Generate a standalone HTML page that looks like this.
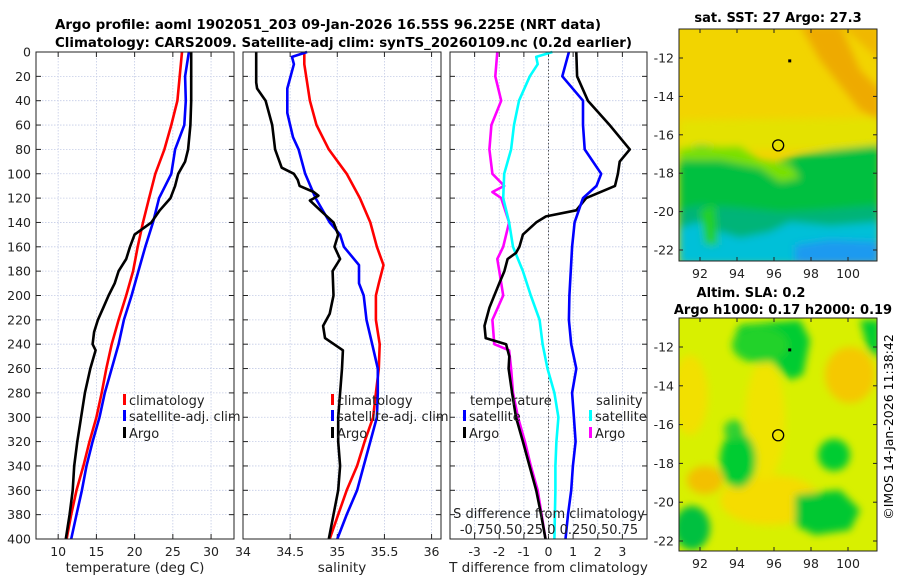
<!DOCTYPE html>
<html><head><meta charset="utf-8">
<style>
html,body{margin:0;padding:0;background:#fff;}
svg{display:block;font-family:"DejaVu Sans","Liberation Sans",sans-serif;}
</style></head>
<body>
<svg id="fig" width="900" height="580" viewBox="0 0 900 580" xmlns="http://www.w3.org/2000/svg">
<defs>
<filter id="blur4" x="-20%" y="-20%" width="140%" height="140%"><feGaussianBlur stdDeviation="4"/></filter>
<filter id="blur2" x="-20%" y="-20%" width="140%" height="140%"><feGaussianBlur stdDeviation="2"/></filter>
<clipPath id="clipMap1"><rect x="679" y="29" width="198" height="232"/></clipPath>
<clipPath id="clipMap2"><rect x="679" y="318" width="198" height="233"/></clipPath>
</defs>
<text x="55" y="29" font-size="13.5" font-weight="bold" textLength="546" lengthAdjust="spacingAndGlyphs">Argo profile: aoml 1902051_203 09-Jan-2026 16.55S 96.225E (NRT data)</text>
<text x="55" y="47" font-size="13.5" font-weight="bold" textLength="577" lengthAdjust="spacingAndGlyphs">Climatology: CARS2009. Satellite-adj clim: synTS_20260109.nc (0.2d earlier)</text>
<g id="panels"></g>
<g id="maps">
  <g clip-path="url(#clipMap1)">
    <rect x="679" y="29" width="198" height="232" fill="#f2d400"/>
    <g filter="url(#blur4)">
      <path d="M800,25 L840,25 L860,70 L880,90 L880,120 L860,110 L840,85 L820,60 Z" fill="#eeaa00"/>
      <path d="M840,25 L880,25 L880,60 Z" fill="#f0b800"/>
      <path d="M679,120 L880,118 L880,150 L679,150 Z" fill="#e4e200"/>
      <path d="M679,150 L700,145 L730,148 L750,155 L770,165 L800,155 L830,150 L880,145 L880,265 L679,265 Z" fill="#00c040"/>
      <path d="M679,148 L740,146 L760,160 L790,165 L800,178 L780,182 L760,168 L720,160 L679,160 Z" fill="#7ae000"/>
      <path d="M679,210 L700,205 L740,208 L780,212 L820,210 L880,205 L880,265 L679,265 Z" fill="#00b478"/>
      <path d="M679,228 L700,222 L720,232 L740,238 L770,232 L790,222 L830,226 L880,222 L880,265 L679,265 Z" fill="#00c0d8"/>
      <path d="M795,245 L830,240 L880,242 L880,265 L795,265 Z" fill="#1a9af0"/>
      <path d="M700,210 L715,205 L718,245 L705,245 Z" fill="#20d020"/>
    </g>
  </g>
  <rect x="679" y="29" width="198" height="232" fill="none" stroke="#222" stroke-width="1"/>
  <g clip-path="url(#clipMap2)">
    <rect x="679" y="318" width="198" height="233" fill="#d8f000"/>
    <g filter="url(#blur4)">
      <ellipse cx="850" cy="375" rx="25" ry="28" fill="#f5c800"/>
      <ellipse cx="705" cy="480" rx="18" ry="14" fill="#f3c000"/>
      <ellipse cx="770" cy="500" rx="50" ry="25" fill="#f5dc00"/>
      <ellipse cx="765" cy="420" rx="20" ry="60" fill="#f0e400"/>
      <ellipse cx="690" cy="395" rx="18" ry="40" fill="#f2e000"/>
      <path d="M740,325 L800,320 L810,340 L803,375 L790,380 L770,360 L750,350 L735,335 Z" fill="#00cc33"/>
      <ellipse cx="760" cy="345" rx="28" ry="18" fill="#22d22a"/>
      <path d="M860,320 L880,320 L880,360 L868,350 Z" fill="#00cc33"/>
      <ellipse cx="738" cy="460" rx="18" ry="28" fill="#00cc33"/>
      <ellipse cx="734" cy="430" rx="10" ry="10" fill="#33d030"/>
      <ellipse cx="834" cy="455" rx="16" ry="16" fill="#00cc33"/>
      <path d="M795,495 L840,490 L860,510 L850,530 L815,535 L795,525 Z" fill="#00c830"/>
      <ellipse cx="692" cy="528" rx="18" ry="22" fill="#00c040"/>
    </g>
  </g>
  <rect x="679" y="318" width="198" height="233" fill="none" stroke="#222" stroke-width="1"/>
  <text x="778" y="22" font-size="13" font-weight="bold" text-anchor="middle">sat. SST: 27 Argo: 27.3</text>
  <text x="751" y="297" font-size="13" font-weight="bold" text-anchor="middle">Altim. SLA: 0.2</text>
  <text x="783" y="314" font-size="13" font-weight="bold" text-anchor="middle">Argo h1000: 0.17 h2000: 0.19</text>
  <text transform="translate(893,427) rotate(-90)" font-size="12.5" text-anchor="middle">©IMOS 14-Jan-2026 11:38:42</text>
</g>
</svg>
<script>
// ---- data ----
const depths = [0,20,40,60,80,100,120,140,160,180,200,220,240,260,280,300,320,340,360,380,400];
const tempClim = [26.2,25.9,25.6,24.8,23.9,22.7,21.9,21.1,20.4,19.8,18.9,17.9,17.0,16.3,15.7,15.0,14.1,13.3,12.4,11.7,11.1];
const tempSat = [27.1,26.6,26.7,26.5,25.3,24.8,23.2,22.4,21.4,20.5,19.6,18.6,17.9,17.0,16.1,15.4,14.5,13.7,13.1,12.4,11.7];
const argoTempDepths = [0,20,40,60,80,90,100,110,120,130,140,150,160,170,180,190,200,210,220,230,240,245,260,280,300,320,340,360,380,400];
const tempArgo = [27.4,27.4,27.4,27.3,27.0,26.6,25.7,25.3,24.7,23.3,22.2,20.0,19.4,18.9,17.9,17.4,16.6,15.9,15.2,14.7,14.5,14.9,14.2,13.5,13.0,12.5,12.1,11.9,11.5,11.0];

const salClimDepths = [0,10,40,60,80,100,120,140,160,175,190,200,220,240,260,280,300,320,340,360,380,400];
const salClim = [34.65,34.65,34.71,34.78,34.91,35.10,35.24,35.35,35.42,35.49,35.44,35.41,35.41,35.45,35.44,35.41,35.38,35.29,35.21,35.10,35.01,34.92];
const salSatDepths = [0,4,10,30,50,70,80,100,120,140,150,160,175,190,200,220,240,260,280,300,320,340,360,380,400];
const salSat = [34.68,34.52,34.54,34.47,34.47,34.53,34.59,34.66,34.77,34.92,35.03,35.07,35.23,35.23,35.28,35.31,35.37,35.43,35.43,35.42,35.35,35.28,35.21,35.10,35.00];
const salArgoDepths = [0,25,30,40,60,80,95,100,105,110,115,118,122,130,140,150,160,170,180,200,215,225,235,245,260,280,300,320,340,360,380,400];
const salArgo = [34.14,34.14,34.15,34.24,34.31,34.34,34.41,34.54,34.58,34.60,34.75,34.80,34.71,34.82,34.96,35.01,34.97,35.03,34.95,34.96,34.92,34.85,34.87,35.06,35.05,35.03,35.01,35.01,35.03,35.01,34.96,34.91];

const dTSatDepths = [0,20,40,60,80,100,110,120,140,160,200,220,240,260,280,300,320,340,360,380,400];
const dTSat = [0.83,0.56,1.40,1.40,1.47,2.14,1.95,1.40,1.06,0.96,0.85,0.83,0.92,1.13,0.96,1.03,1.10,0.99,0.92,0.79,0.69];
const dTArgoDepths = [0,20,40,60,80,90,100,110,120,130,135,140,150,160,165,170,180,190,200,210,225,235,240,250,260,280,300,320,340,360,380,400];
const dTArgo = [1.13,1.16,1.60,2.48,3.30,2.89,2.82,2.70,1.53,1.13,-0.10,-0.50,-1.04,-1.18,-1.32,-1.66,-1.79,-2.0,-2.2,-2.4,-2.6,-2.55,-1.72,-1.59,-1.62,-1.48,-1.32,-1.04,-0.77,-0.50,-0.30,-0.12];
const dSSatDepths = [0,4,10,20,40,60,80,100,120,140,160,180,200,220,240,260,280,300,320,340,360,380,400];
const dSSat = [0.04,-0.125,-0.11,-0.19,-0.30,-0.35,-0.38,-0.45,-0.46,-0.40,-0.36,-0.26,-0.18,-0.09,-0.06,-0.01,0.06,0.10,0.08,0.07,0.07,0.065,0.06];
const dSArgoDepths = [0,20,40,60,80,100,110,115,120,140,160,170,180,200,220,240,245,260,280,300,320,340,360,380,400];
const dSArgo = [-0.52,-0.54,-0.48,-0.58,-0.60,-0.57,-0.45,-0.57,-0.48,-0.40,-0.46,-0.52,-0.50,-0.46,-0.57,-0.55,-0.40,-0.38,-0.36,-0.31,-0.24,-0.18,-0.11,-0.07,-0.03];

const depthTicks = [0,20,40,60,80,100,120,140,160,180,200,220,240,260,280,300,320,340,360,380,400];
const tempTicks = [10,15,20,25,30];
const salTicks = [34,34.5,35,35.5,36];
const salTickLabels = ["34","34.5","35","35.5","36"];
const diffTicks = [-3,-2,-1,0,1,2,3];
const lonTicks = [92,94,96,98,100];
const latTicks = [-12,-14,-16,-18,-20,-22];
const argoPos = [96.225,-16.55];
const otherPos = [96.85,-12.15];

// ---- drawing ----
const NS = "http://www.w3.org/2000/svg";
const root = document.getElementById('panels');
function mk(tag, attrs, parent){
  const e = document.createElementNS(NS, tag);
  for (const k in attrs) e.setAttribute(k, attrs[k]);
  (parent||root).appendChild(e);
  return e;
}
const Y0 = 52, Y1 = 539;
function yD(d){ return Y0 + (d/400)*(Y1-Y0); }
function makeX(x0,x1,v0,v1){ return v => x0 + (v-v0)/(v1-v0)*(x1-x0); }

const panels = [
  {name:'temperature-panel', x0:36, x1:234, v0:7.1, v1:33.0, ticks:tempTicks, labels:tempTicks.map(String), xlabel:'temperature (deg C)', leftLabels:true},
  {name:'salinity-panel', x0:243, x1:441, v0:34.0, v1:36.1, ticks:salTicks, labels:salTickLabels, xlabel:'salinity'},
  {name:'difference-panel', x0:450, x1:647, v0:-4, v1:4, ticks:diffTicks, labels:diffTicks.map(String), xlabel:'T difference from climatology'}
];
const scales = {};
panels.forEach(p => {
  const g = mk('g', {});
  
  
  const sx = makeX(p.x0,p.x1,p.v0,p.v1);
  scales[p.name] = sx;
  p.g = g;
  depthTicks.forEach(d => {
    const l = mk('line', {x1:p.x0, x2:p.x1, y1:yD(d), y2:yD(d), stroke:'#c4cce6', 'stroke-width':0.8, 'stroke-dasharray':'1.5,1.5'}, g);
    
    
    mk('line', {x1:p.x0, x2:p.x0+5, y1:yD(d), y2:yD(d), stroke:'#222'}, g);
    mk('line', {x1:p.x1-5, x2:p.x1, y1:yD(d), y2:yD(d), stroke:'#222'}, g);
  });
  p.ticks.forEach((t,i) => {
    const x = sx(t);
    const l = mk('line', {x1:x, x2:x, y1:Y0, y2:Y1, stroke:'#c4cce6', 'stroke-width':0.8, 'stroke-dasharray':'1.5,1.5'}, g);
    
    
    mk('line', {x1:x, x2:x, y1:Y1-5, y2:Y1, stroke:'#222'}, g);
    mk('line', {x1:x, x2:x, y1:Y0, y2:Y0+5, stroke:'#222'}, g);
    const tx = mk('text', {x:x, y:Y1+17, 'font-size':12.5, 'text-anchor':'middle', fill:'#222'}, g);
    
    
    tx.textContent = p.labels[i];
  });
  const xl = mk('text', {x:(p.x0+p.x1)/2, y:572, 'font-size':13.5, 'text-anchor':'middle', fill:'#222'}, g);
  
  
  xl.textContent = p.xlabel;
  if (p.leftLabels) {
    depthTicks.forEach(d => {
      const tx = mk('text', {x:31, y:yD(d)+4.5, 'font-size':12.5, 'text-anchor':'end', fill:'#222'}, g);
      
      
      tx.textContent = String(d);
    });
  }
});
(function(){
  const sx = scales['difference-panel'];
  const l = mk('line', {x1:sx(0), x2:sx(0), y1:Y0, y2:Y1, stroke:'#555', 'stroke-width':1, 'stroke-dasharray':'1.5,2'}, panels[2].g);
  
  
})();

function series(panel, ds, vs, color, name, k){
  const sx = scales[panel];
  const pts = ds.map((d,i) => sx(vs[i]*(k||1)).toFixed(1)+','+yD(d).toFixed(1)).join(' ');
  const pl = mk('polyline', {points:pts, fill:'none', stroke:color, 'stroke-width':2.6, 'stroke-linejoin':'round'}, panels.find(p=>p.name===panel).g);
  
  
}
series('temperature-panel', depths, tempClim, '#ff0000', 'temperature-climatology-line');
series('temperature-panel', depths, tempSat, '#0000ff', 'temperature-satellite-line');
series('temperature-panel', argoTempDepths, tempArgo, '#000000', 'temperature-argo-line');
series('salinity-panel', salClimDepths, salClim, '#ff0000', 'salinity-climatology-line');
series('salinity-panel', salSatDepths, salSat, '#0000ff', 'salinity-satellite-line');
series('salinity-panel', salArgoDepths, salArgo, '#000000', 'salinity-argo-line');
series('difference-panel', dSArgoDepths, dSArgo, '#ff00ff', 'salinity-diff-argo-line', 4);
series('difference-panel', dSSatDepths, dSSat, '#00ffff', 'salinity-diff-satellite-line', 4);
series('difference-panel', dTArgoDepths, dTArgo, '#000000', 'temperature-diff-argo-line');
series('difference-panel', dTSatDepths, dTSat, '#0000ff', 'temperature-diff-satellite-line');

panels.forEach(p => {
  const r = mk('rect', {x:p.x0, y:Y0, width:p.x1-p.x0, height:Y1-Y0, fill:'none', stroke:'#222', 'stroke-width':1}, p.g);
  
  
});

function legendEntry(g, x, y, color, label){
  const m = mk('rect', {x:x, y:y-7, width:3, height:11, fill:color}, g);
  
  
  const t = mk('text', {x:x+6, y:y+4, 'font-size':13, fill:'#222'}, g);
  
  
  t.textContent = label;
}
[[123,'temperature-panel'],[331,'salinity-panel']].forEach(([x,pn]) => {
  const g = mk('g', {}, panels.find(p=>p.name===pn).g);
  
  
  legendEntry(g, x, 401, '#ff0000', 'climatology');
  legendEntry(g, x, 417, '#0000ff', 'satellite-adj. clim');
  legendEntry(g, x, 434, '#000000', 'Argo');
});
(function(){
  const g = mk('g', {}, panels[2].g);
  
  
  const t1 = mk('text', {x:470, y:405, 'font-size':13, fill:'#222'}, g);
  
  
  t1.textContent = 'temperature';
  const t2 = mk('text', {x:596, y:405, 'font-size':13, fill:'#222'}, g);
  
  
  t2.textContent = 'salinity';
  legendEntry(g, 463, 417, '#0000ff', 'satellite');
  legendEntry(g, 463, 434, '#000000', 'Argo');
  legendEntry(g, 589, 417, '#00ffff', 'satellite');
  legendEntry(g, 589, 434, '#ff00ff', 'Argo');
  const s1 = mk('text', {x:549, y:518, 'font-size':13, 'text-anchor':'middle', fill:'#222'}, g);
  
  
  s1.textContent = 'S difference from climatology';
  const s2 = mk('text', {x:549, y:534, 'font-size':13, 'text-anchor':'middle', fill:'#222'}, g);
  
  
  s2.textContent = '-0.750.50.25 0 0.250.50.75';
})();

const mapsG = document.getElementById('maps');
const maps = [
  {name:'sst-map', x0:679, x1:877, y0:29, y1:261, lonA:92, xA:700, lonB:100, xB:848, latA:-12, yA:58, latB:-22, yB:250},
  {name:'sla-map', x0:679, x1:877, y0:318, y1:551, lonA:92, xA:700, lonB:100, xB:848, latA:-12, yA:347, latB:-22, yB:541}
];
maps.forEach(m => {
  const g = mk('g', {}, mapsG);
  
  
  const lx = v => m.xA + (v-m.lonA)/(m.lonB-m.lonA)*(m.xB-m.xA);
  const ly = v => m.yA + (v-m.latA)/(m.latB-m.latA)*(m.yB-m.yA);
  lonTicks.forEach(v => {
    mk('line', {x1:lx(v), x2:lx(v), y1:m.y1, y2:m.y1-4, stroke:'#222'}, g);
    mk('line', {x1:lx(v), x2:lx(v), y1:m.y0, y2:m.y0+4, stroke:'#222'}, g);
    const t = mk('text', {x:lx(v), y:m.y1+17, 'font-size':12.5, 'text-anchor':'middle', fill:'#222'}, g);
    
    
    t.textContent = String(v);
  });
  latTicks.forEach(v => {
    mk('line', {x1:m.x0, x2:m.x0+4, y1:ly(v), y2:ly(v), stroke:'#222'}, g);
    mk('line', {x1:m.x1, x2:m.x1-4, y1:ly(v), y2:ly(v), stroke:'#222'}, g);
    const t = mk('text', {x:m.x0-5, y:ly(v)+4.5, 'font-size':12.5, 'text-anchor':'end', fill:'#222'}, g);
    
    
    t.textContent = String(v);
  });
  const c = mk('circle', {cx:lx(argoPos[0]), cy:ly(argoPos[1]), r:5.5, fill:'none', stroke:'#000', 'stroke-width':1.3}, g);
  
  
  const d = mk('rect', {x:lx(otherPos[0])-1.5, y:ly(otherPos[1])-1.5, width:3, height:3, fill:'#000'}, g);
  
  
});
</script>
</body></html>
